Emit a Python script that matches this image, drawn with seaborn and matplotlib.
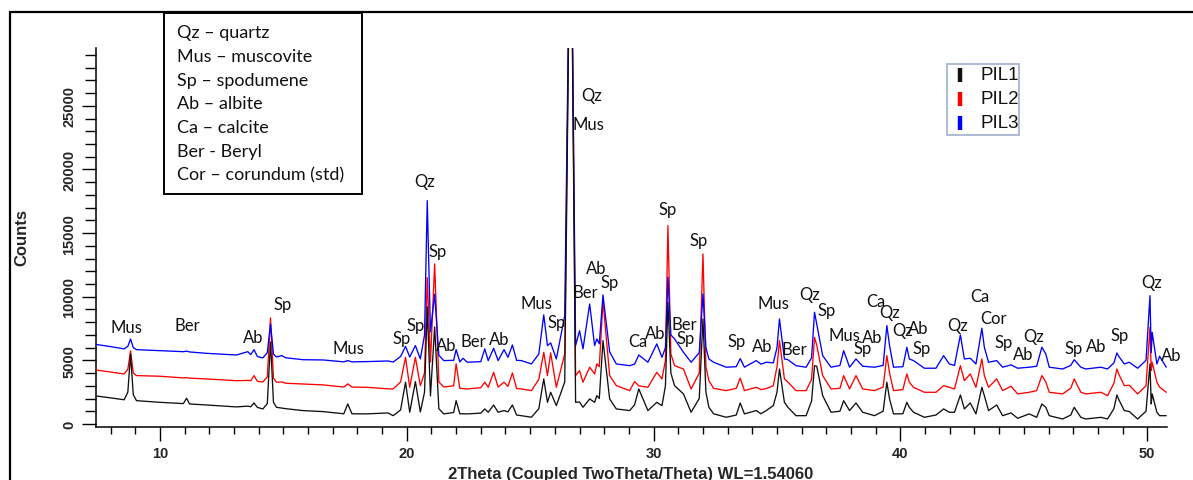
import numpy as np
import pandas as pd
import matplotlib
matplotlib.use("Agg")
import matplotlib.pyplot as plt
import seaborn as sns
from matplotlib.ticker import MultipleLocator
from matplotlib.lines import Line2D
from matplotlib.patches import Rectangle

# ---------------- data ----------------
two_theta = [
    7.41, 8.00, 8.55, 8.70, 8.81, 8.92, 9.05, 10.00, 10.95, 11.08,
    11.20, 11.89, 13.10, 13.56, 13.68, 13.81, 13.95, 14.17, 14.35, 14.48,
    14.60, 14.72, 14.93, 15.10, 15.79, 16.61, 17.45, 17.61, 17.78, 18.37,
    19.24, 19.45, 19.75, 19.95, 20.12, 20.35, 20.55, 20.72, 20.83, 20.96,
    21.13, 21.30, 21.50, 21.90, 22.00, 22.15, 22.28, 22.45, 23.00, 23.16,
    23.30, 23.52, 23.70, 23.94, 24.10, 24.28, 24.45, 24.64, 25.05, 25.35,
    25.55, 25.70, 25.83, 26.06, 26.40, 26.64, 26.84, 27.00, 27.14, 27.41,
    27.61, 27.70, 27.80, 27.95, 28.22, 28.49, 29.03, 29.23, 29.40, 29.77,
    30.13, 30.34, 30.48, 30.58, 30.70, 30.85, 31.21, 31.52, 31.85, 32.00,
    32.12, 32.24, 32.43, 32.94, 33.35, 33.51, 33.68, 34.16, 34.35, 34.56,
    34.85, 35.00, 35.10, 35.30, 35.44, 35.77, 36.18, 36.40, 36.52, 36.61,
    36.85, 37.19, 37.55, 37.70, 37.94, 38.20, 38.47, 38.95, 39.30, 39.45,
    39.56, 39.72, 40.10, 40.26, 40.36, 40.53, 40.97, 41.44, 41.75, 41.98,
    42.19, 42.43, 42.59, 42.83, 43.06, 43.30, 43.40, 43.57, 43.90, 44.14,
    44.48, 44.75, 45.22, 45.52, 45.73, 45.89, 46.03, 46.57, 46.90, 47.04,
    47.31, 47.51, 48.12, 48.39, 48.65, 48.77, 48.85, 49.07, 49.27, 49.61,
    49.95, 50.11, 50.16, 50.20, 50.39, 50.50, 50.77]

pil1_counts = [
    2200, 2050, 1900, 2500, 5500, 2300, 1830, 1700, 1600, 2020,
    1570, 1490, 1340, 1400, 1350, 1650, 1300, 1180, 1600, 6440,
    1700, 1310, 1250, 1200, 1050, 970, 800, 1570, 800, 790,
    865, 650, 1100, 3280, 920, 3330, 940, 2500, 9200, 2200,
    7620, 1200, 790, 900, 1830, 800, 800, 790, 850, 1180,
    920, 1490, 920, 1050, 950, 1490, 700, 650, 530, 1200,
    3540, 1700, 2490, 1440, 3300, 45000, 1700, 1730, 1310, 1965,
    1700, 2225, 2000, 6550, 1965, 1180, 1050, 1500, 2750, 1050,
    1700, 1440, 3000, 9560, 4000, 3010, 2360, 920, 2000, 8250,
    2500, 1310, 800, 525, 700, 1650, 790, 1050, 800, 1050,
    1440, 2500, 4320, 1700, 1310, 650, 650, 1800, 4580, 4535,
    2225, 920, 1000, 1830, 1050, 1650, 920, 650, 1000, 3280,
    1965, 790, 800, 1700, 1310, 920, 525, 700, 1180, 920,
    920, 2280, 1180, 1650, 790, 2880, 2225, 1050, 1490, 650,
    865, 445, 790, 520, 1570, 1310, 650, 390, 700, 1310,
    520, 390, 520, 390, 1200, 2280, 1900, 1050, 980, 390,
    1000, 4716, 1570, 2360, 920, 650, 650]

pil2_counts = [
    4240, 4080, 3930, 4300, 5750, 4000, 3800, 3750, 3620, 3640,
    3600, 3540, 3400, 3420, 3400, 3800, 3350, 3300, 3700, 8330,
    3600, 3280, 3300, 3200, 3140, 3070, 2900, 3150, 2900, 2880,
    2760, 2750, 3300, 5240, 2880, 5240, 3010, 4000, 11500, 4870,
    12580, 3300, 2900, 3000, 4720, 2800, 2780, 2750, 2850, 3280,
    2880, 4060, 2900, 3280, 2950, 4010, 2780, 2750, 2620, 3500,
    5630, 3800, 5580, 2880, 5500, 45000, 3800, 4190, 3280, 4460,
    3930, 4720, 4500, 9690, 3800, 3010, 2620, 3330, 3000, 2880,
    4060, 3540, 5000, 15590, 5500, 4580, 4320, 2750, 4000, 13360,
    4500, 3400, 2800, 2620, 2800, 3600, 2620, 2880, 2700, 2780,
    3000, 4500, 6550, 3540, 3300, 2620, 2620, 3500, 6810, 6200,
    3800, 2750, 2800, 3800, 2750, 3800, 2750, 2620, 2900, 5370,
    4000, 2620, 2700, 3930, 3280, 2880, 2490, 2490, 3010, 2880,
    2750, 4580, 3400, 3930, 2880, 5110, 3800, 2880, 3540, 2620,
    2960, 2360, 2490, 2620, 3800, 3300, 2490, 2360, 2800, 3540,
    2490, 2360, 2490, 2225, 3200, 4320, 3900, 3010, 3040, 2360,
    3000, 7600, 4200, 4850, 3280, 2900, 2490]

pil3_counts = [
    6250, 6080, 5900, 6100, 6680, 6000, 5840, 5760, 5680, 5720,
    5660, 5550, 5420, 5680, 5450, 5840, 5300, 5190, 5600, 7860,
    5500, 5260, 5370, 5200, 5050, 5030, 4880, 4980, 4880, 4900,
    4950, 4870, 5300, 6100, 5260, 6160, 5110, 7000, 17550, 7230,
    10200, 5400, 4980, 5000, 5840, 4880, 5160, 4850, 4900, 5900,
    4980, 5950, 4980, 5840, 5240, 6210, 5000, 4980, 4716, 5500,
    8570, 6160, 6370, 5110, 8510, 45000, 6160, 7330, 5900, 9430,
    6160, 6680, 6300, 10140, 5660, 4716, 4580, 4700, 5420, 4850,
    6290, 5240, 6000, 11530, 7000, 6680, 5630, 4850, 5600, 10220,
    6000, 5110, 4850, 4460, 4500, 5140, 4460, 4980, 4700, 4850,
    4800, 6000, 8250, 5110, 5050, 4580, 4460, 5200, 8780, 7860,
    5370, 4460, 4600, 5760, 4460, 5110, 4535, 4460, 4600, 7730,
    6160, 4460, 4500, 6030, 5110, 4980, 4380, 4380, 5370, 4716,
    4600, 7000, 5110, 5160, 4716, 7520, 6030, 4850, 4980, 4460,
    4640, 4380, 4460, 4535, 6030, 5500, 4460, 4320, 4600, 5050,
    4460, 4320, 4460, 4320, 4800, 5580, 5300, 4716, 4850, 4380,
    5000, 10080, 5600, 7200, 4716, 5320, 4460]

sample_names = ["PIL1", "PIL2", "PIL3"]
sample_colors = ["#111111", "#ff0000", "#0000ff"]

label_text = ["Mus", "Ber", "Ab", "Sp", "Mus", "Sp", "Sp", "Qz", "Sp", "Ab",
              "Ber", "Ab", "Mus", "Sp", "Qz", "Mus", "Ber", "Ab", "Sp", "Ca",
              "Ab", "Sp", "Ber", "Sp", "Sp", "Sp", "Ab", "Mus", "Ber", "Qz",
              "Sp", "Mus", "Ab", "Sp", "Ca", "Qz", "Qz", "Ab", "Sp", "Qz",
              "Ca", "Cor", "Sp", "Ab", "Qz", "Sp", "Ab", "Sp", "Qz", "Ab"]
label_theta = [8.66, 11.12, 13.78, 14.99, 17.62, 19.80, 20.35, 20.73, 21.27, 21.60,
               22.71, 23.74, 25.25, 26.06, 27.48, 27.38, 27.25, 27.68, 28.22, 29.37,
               30.08, 30.58, 31.26, 31.30, 31.82, 33.35, 34.40, 34.86, 35.71, 36.32,
               37.02, 37.73, 38.85, 38.47, 38.99, 39.55, 40.09, 40.73, 40.86, 42.32,
               43.20, 43.78, 44.17, 44.99, 45.38, 47.00, 47.92, 48.87, 50.18, 50.99]
label_counts = [7620, 7800, 6860, 9430, 5970, 6730, 7800, 19120, 13620, 6210,
                6550, 6680, 9510, 8040, 25860, 23580, 10350, 12240, 11190, 6550,
                7130, 16900, 7860, 6730, 14490, 6550, 6160, 9510, 5900, 10220,
                8960, 7020, 6810, 5970, 9690, 8830, 7390, 7550, 5970, 7800,
                10090, 8330, 6470, 5500, 6890, 5970, 6160, 7000, 11140, 5420]

legend_lines = ["Qz \u2013 quartz", "Mus \u2013 muscovite", "Sp \u2013 spodumene",
                "Ab \u2013 albite", "Ca \u2013 calcite", "Ber - Beryl",
                "Cor \u2013 corundum (std)"]

assert len(two_theta) == len(pil1_counts) == len(pil2_counts) == len(pil3_counts)
assert len(label_text) == len(label_theta) == len(label_counts)

df = pd.DataFrame({
    "two_theta": two_theta * 3,
    "counts": pil1_counts + pil2_counts + pil3_counts,
    "sample": [s for s in sample_names for _ in two_theta],
})

# ---------------- figure ----------------
sns.set_style("ticks")
plt.rcParams["font.family"] = ["Liberation Sans", "DejaVu Sans"]

W, H = 1193, 481
fig = plt.figure(figsize=(W / 100, H / 100), dpi=100)
ax = fig.add_axes([96 / W, 1 - 428 / H, (1167 - 96) / W, (428 - 49) / H])

sns.lineplot(data=df, x="two_theta", y="counts", hue="sample",
             hue_order=sample_names, palette=dict(zip(sample_names, sample_colors)),
             estimator=None, linewidth=0.95, legend=False, ax=ax)
zorders = {"PIL1": 3.2, "PIL2": 3.0, "PIL3": 3.1}
for line, name in zip(ax.lines, sample_names):
    line.set_zorder(zorders[name])

ax.set_xlim(7.41, 50.8)
ax.set_ylim(-240, 29550)
ax.xaxis.set_major_locator(MultipleLocator(10))
ax.xaxis.set_minor_locator(MultipleLocator(1))
ax.yaxis.set_major_locator(MultipleLocator(5000))
ax.yaxis.set_minor_locator(MultipleLocator(1000))
ax.tick_params(which="major", direction="out", length=10, width=1.0, color="black",
               labelsize=10.5, pad=4)
ax.tick_params(which="minor", direction="out", length=5, width=1.0, color="black")
ax.tick_params(axis="y", which="minor", length=8)
for lab in ax.get_xticklabels() + ax.get_yticklabels():
    lab.set_fontweight("bold")
plt.setp(ax.get_yticklabels(), rotation=90, va="center")
ax.set_xlabel("")
ax.set_ylabel("")
for side in ["top", "right"]:
    ax.spines[side].set_visible(False)
for side in ["left", "bottom"]:
    ax.spines[side].set_linewidth(1.1)
    ax.spines[side].set_color("black")

# peak labels
for t, x, y in zip(label_text, label_theta, label_counts):
    ax.text(x, y, t, ha="center", va="center", fontsize=12,
            family=["Lato", "DejaVu Sans"], color="#111111", zorder=5)

# axis titles
fig.text(631 / W, 1 - 475 / H, "2Theta (Coupled TwoTheta/Theta) WL=1.54060",
         ha="center", va="center", fontsize=12, fontweight="bold")
fig.text(22 / W, 1 - 238 / H, "Counts", ha="center", va="center",
         rotation=90, fontsize=12, fontweight="bold")

# outer frame (left + top edges visible)
fig.add_artist(Line2D([10 / W, 10 / W], [0, 1 - 13 / H], color="black", lw=1.6,
                      transform=fig.transFigure))
fig.add_artist(Line2D([10 / W, 1], [1 - 13 / H, 1 - 13 / H], color="black", lw=1.6,
                      transform=fig.transFigure))

# mineral key box
fig.add_artist(Rectangle((164 / W, 1 - 195 / H), (362 - 164) / W, (195 - 14) / H,
                         transform=fig.transFigure, facecolor="white",
                         edgecolor="black", lw=1.4, zorder=6))
for i, s in enumerate(legend_lines):
    fig.text(177 / W, 1 - (33 + 23.8 * i) / H, s, ha="left", va="center",
             fontsize=13, family=["Lato", "DejaVu Sans"], color="#111111", zorder=7)

# sample legend box
fig.add_artist(Rectangle((947 / W, 1 - 136 / H), (1019 - 947) / W, (136 - 65) / H,
                         transform=fig.transFigure, facecolor="white",
                         edgecolor="#a7b5d0", lw=1.3, zorder=6))
for i, (name, col) in enumerate(zip(sample_names, sample_colors)):
    yc = 76 + 24 * i
    fig.add_artist(Line2D([960 / W, 960 / W], [1 - (yc - 7) / H, 1 - (yc + 7) / H],
                          color=col, lw=3.2, solid_capstyle="butt",
                          transform=fig.transFigure, zorder=7))
    fig.text(980 / W, 1 - yc / H, name, ha="left", va="center", fontsize=13.5,
             color="#111111", zorder=7)

fig.savefig("out.png", dpi=100)
